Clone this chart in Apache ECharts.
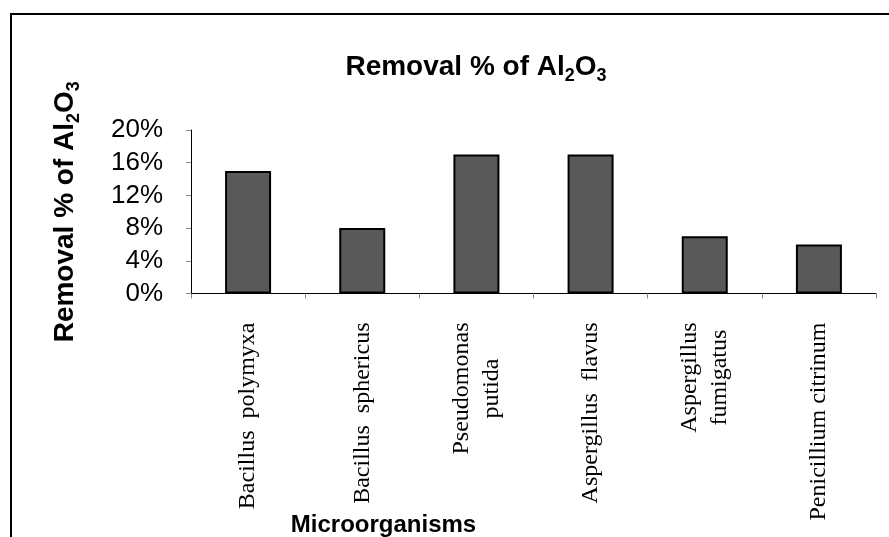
<!DOCTYPE html>
<html>
<head>
<meta charset="utf-8">
<script src="https://cdn.jsdelivr.net/npm/echarts@6/dist/echarts.min.js"></script>
<style>html,body{margin:0;padding:0;background:#fff;}#c{width:889px;height:537px;}</style>
</head>
<body>
<div id="c"></div>
<script>
const categories = ['Bacillus  polymyxa', 'Bacillus  sphericus', 'Pseudomonas\nputida', 'Aspergillus  flavus', 'Aspergillus\nfumigatus', 'Penicillium citrinum'];
const removalValues = [15, 8, 17, 17, 7, 6];
const yTicks = [0, 4, 8, 12, 16, 20];

const chart = echarts.init(document.getElementById('c'), null, {renderer: 'canvas'});
const richSub = {
  a: {fontFamily: 'Liberation Sans, Arial', fontWeight: 'bold', fontSize: 28, lineHeight: 36, color: '#000'},
  s: {fontFamily: 'Liberation Sans, Arial', fontWeight: 'bold', fontSize: 18, lineHeight: 18, verticalAlign: 'bottom', color: '#000'}
};
chart.setOption({
  animation: false,
  backgroundColor: '#fff',
  graphic: [{
    type: 'rect', shape: {x: 11, y: 14, width: 1000, height: 1000},
    style: {fill: 'none', stroke: '#000', lineWidth: 2}, silent: true
  }],
  title: {
    text: '{a|Removal % of Al}{s|2}{a|O}{s|3}',
    left: 471, top: 44, textAlign: 'center',
    textStyle: {rich: richSub}
  },
  grid: {left: 191, right: 13, top: 130, bottom: 243.5, containLabel: false, outerBoundsMode: 'none'},
  xAxis: {
    type: 'category',
    data: categories,
    name: 'Microorganisms',
    nameLocation: 'middle',
    nameGap: 220,
    nameMoveOverlap: false,
    nameTextStyle: {fontFamily: 'Liberation Sans, Arial', fontWeight: 'bold', fontSize: 24, color: '#000', padding: [0, 0, 0, -300]},
    axisLine: {lineStyle: {color: '#000', width: 1}},
    axisTick: {show: true, length: 5, inside: false, lineStyle: {color: '#888'}},
    axisLabel: {
      rotate: 90, margin: 29, interval: 0, hideOverlap: false,
      fontFamily: 'Liberation Serif, Times New Roman', fontSize: 24, color: '#000', lineHeight: 30,
      formatter: function (v) { return v.split('\n').map(function (l) { return '{c|' + l + '}'; }).join('\n'); },
      rich: {c: {align: 'center', fontFamily: 'Liberation Serif, Times New Roman', fontSize: 24, lineHeight: 30, color: '#000'}}
    }
  },
  yAxis: {
    type: 'value', min: 0, max: 20, interval: 4,
    name: '{a|Removal % of Al}{s|2}{a|O}{s|3}',
    nameLocation: 'middle', nameGap: 108, nameRotate: 90,
    nameMoveOverlap: false,
    nameTextStyle: {rich: richSub},
    splitLine: {show: false},
    axisLine: {show: true, lineStyle: {color: '#000', width: 1}},
    axisTick: {show: true, length: 5, inside: false, lineStyle: {color: '#888'}},
    axisLabel: {
      margin: 28, fontFamily: 'Liberation Sans, Arial', fontSize: 26, color: '#000',
      formatter: function (v) { return yTicks.indexOf(v) >= 0 ? v + '%' : ''; }
    }
  },
  series: [{
    type: 'bar',
    data: removalValues,
    barWidth: 46,
    itemStyle: {color: '#595959', borderColor: '#000', borderWidth: 2}
  }]
});
</script>
</body>
</html>
